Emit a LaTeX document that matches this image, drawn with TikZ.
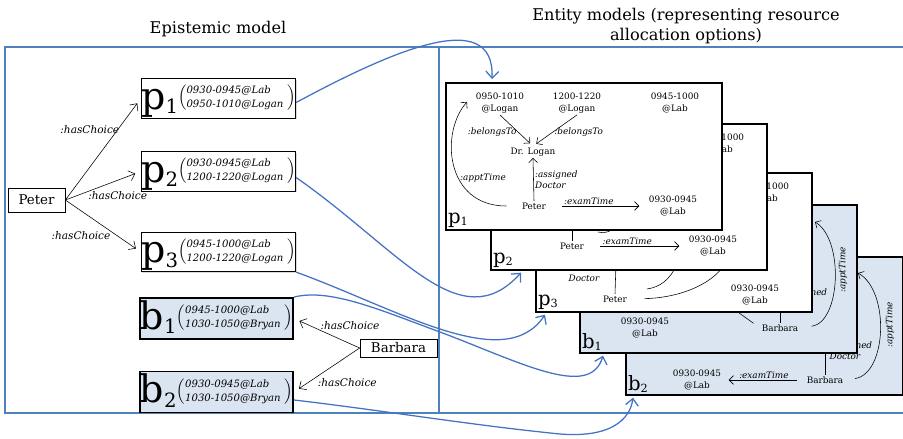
\documentclass[tikz,border=0pt]{standalone}
\usepackage{fontspec}
\setmainfont{DejaVu Serif}
\usetikzlibrary{calc,shadows,arrows.meta}

\definecolor{panelcol}{RGB}{79,129,189}
\definecolor{linkcol}{RGB}{68,114,196}
\definecolor{bfill}{RGB}{219,229,241}

% big option letter, index and the two bracketed slots
\newcommand{\optlabel}[4]{%
  \rule[-6.5pt]{0pt}{28pt}%
  {\fontsize{27}{27}\selectfont #1}%
  \raisebox{-3.5pt}{\fontsize{14}{14}\selectfont #2}%
  \raisebox{5.3pt}{$\Big(\vcenter{\hbox{\fontsize{7.2}{10}\selectfont\itshape
    \begin{tabular}{@{}l@{}}#3\\#4\end{tabular}}}\;\Big)$}}
% letter and index in the corner of a card
\newcommand{\cardtag}[2]{{\fontsize{14}{14}\selectfont #1}\raisebox{-1.5pt}{\fontsize{8}{8}\selectfont #2}}

\begin{document}
\begin{tikzpicture}[x=0.25mm, y=-0.25mm,
  panel/.style={draw=panelcol, line width=0.8pt},
  title/.style={font=\fontsize{11.5}{14}\selectfont, align=center},
  agent/.style={draw, line width=0.5pt, fill=white, inner sep=0pt, font=\fontsize{9.5}{11}\selectfont,
    drop shadow={opacity=0.25, shadow xshift=0.6pt, shadow yshift=-0.6pt}},
  optbox/.style={draw, line width=0.6pt, fill=white, inner sep=0pt, minimum width=38.25mm, minimum height=9.75mm,
    drop shadow={opacity=0.3, shadow xshift=0.8pt, shadow yshift=-0.8pt}},
  bbox/.style={optbox, fill=bfill, line width=1.3pt, minimum height=10.25mm},
  rel/.style={font=\fontsize{7.5}{9}\selectfont\itshape, inner sep=0pt},
  choice/.style={-{Straight Barb[length=1.4mm, width=2.6mm]}, line width=0.4pt, shorten >=1.5mm},
  card/.style={draw, line width=1.2pt, fill=white, anchor=north west, inner sep=0pt,
    drop shadow={opacity=0.4, shadow xshift=1pt, shadow yshift=-1pt}},
  bcard/.style={card, fill=bfill},
  ct/.style={font=\fontsize{6.3}{8.5}\selectfont, align=center, inner sep=1pt},
  crel/.style={font=\fontsize{6.3}{7.8}\selectfont\itshape, inner sep=1pt},
  cline/.style={-{Straight Barb[length=1.1mm, width=2.2mm]}, line width=0.4pt},
  exam/.style={shorten <=3.6mm, shorten >=2mm},
  tagnode/.style={anchor=south west, inner sep=0.7mm},
  link/.style={-{Straight Barb[length=1.7mm, width=3.2mm]}, draw=linkcol, line width=0.9pt}
]
\useasboundingbox (0,0) rectangle (903,438);

% the two panels
\draw[panel] (5,47) rectangle (439,413);
\draw[panel] (439,47) -- (910,47) (439,413) -- (910,413);

\node[title] (epi) at (218,29) {Epistemic model};
\node[title] (ent) at (686,26) {Entity models (representing resource\\allocation options)};

% epistemic model
\node[agent, minimum width=14.25mm, minimum height=6mm] (peter) at (36.5,200) {Peter};
\node[agent, minimum width=19.25mm, minimum height=4.5mm] (barbara) at (398.5,348) {Barbara};

\node[optbox] (p1) at (218.5,98.5) {\optlabel{p}{1}{0930-0945@Lab}{0950-1010@Logan}};
\node[optbox] (p2) at (218.5,171.5) {\optlabel{p}{2}{0930-0945@Lab}{1200-1220@Logan}};
\node[optbox] (p3) at (218.5,252) {\optlabel{p}{3}{0945-1000@Lab}{1200-1220@Logan}};
\node[bbox] (b1) at (216.5,318.5) {\optlabel{b}{1}{0945-1000@Lab}{1030-1050@Bryan}};
\node[bbox] (b2) at (216.5,392) {\optlabel{b}{2}{0930-0945@Lab}{1030-1050@Bryan}};

\draw[choice] (peter.east) -- (p1.west) node[rel, pos=0.69, anchor=east, xshift=0.5mm] {:hasChoice};
\draw[choice] (peter.east) -- (p2.west) node[rel, pos=0.3, anchor=north west] {:hasChoice};
\draw[choice] (peter.east) -- (p3.west) node[rel, pos=0.6, anchor=north east] {:hasChoice};
\draw[choice] (barbara.west) -- (b1.east) node[rel, pos=0.6, anchor=south west] {:hasChoice};
\draw[choice] (barbara.west) -- (b2.east) node[rel, pos=0.64, anchor=north west, yshift=-0.5mm] {:hasChoice};

% entity models, back to front
\node[bcard, minimum width=69.25mm, minimum height=34.5mm] (cb2) at (625,256) {};
\begin{scope}[shift={(625,256)}]
  \node[ct] (b2lab) at (72,124) {0930-0945\\@Lab};
  \node[ct] (b2ba) at (200,124) {Barbara};
  \draw[cline, shorten <=2mm, shorten >=1.5mm] (b2ba.west) -- (b2lab.east) node[crel, midway, above] {:examTime};
  \draw[line width=0.4pt] (b2ba.north) -- (200,90);
  \node[crel, anchor=west, align=left] (b2as) at (203,95) {:assigned\\Doctor};
  \draw[cline, shorten <=2.5mm] (b2ba.east) .. controls (262,118) and (265,35) .. (233,17);
  \node[crel, rotate=90] (b2ap) at (265,69) {:apptTime};
\end{scope}
\node[tagnode] (tb2) at (cb2.south west) {\cardtag{b}{2}};

\node[bcard, minimum width=69.25mm, minimum height=37mm] (cb1) at (579,204) {};
\begin{scope}[shift={(579,204)}]
  \node[ct] (b1lab) at (66,124) {0930-0945\\@Lab};
  \node[ct] (b1ba) at (201,124) {Barbara};
  \draw[line width=0.4pt] (b1ba.north) -- (201,100);
  \node[crel, anchor=west] (b1as) at (204,89) {:assigned};
  \draw[line width=0.4pt, shorten <=2mm] (b1ba.west) -- (149,101);
  \draw[cline, shorten <=3mm] (b1ba.east) .. controls (262,118) and (265,35) .. (236,18);
  \node[crel, rotate=90] (b1ap) at (264,66) {:apptTime};
\end{scope}
\node[tagnode] (tb1) at (cb1.south west) {\cardtag{b}{1}};

\node[card, minimum width=69mm, minimum height=34.75mm] (cp3) at (535,172) {};
\begin{scope}[shift={(535,172)}]
  \node[ct] (p3c) at (230,21) {0945-1000\\@Lab};
  \node[crel] (p3doc) at (49,106) {Doctor};
  \node[ct] (p3pe) at (80,127) {Peter};
  \node[ct] (p3lab) at (220,123) {0930-0945\\@Lab};
  \draw[line width=0.4pt] (p3pe.north) -- (81,92);
  \draw[line width=0.4pt] (112,117) .. controls (125,115) and (135,108) .. (142,92);
  \draw[line width=0.4pt, shorten <=4mm] (p3pe.east) .. controls (140,126) and (175,115) .. (190,92);
\end{scope}
\node[tagnode] (tp3) at (cp3.south west) {\cardtag{p}{3}};

\node[card, minimum width=69mm, minimum height=36.5mm] (cp2) at (490,123) {};
\begin{scope}[shift={(490,123)}]
  \node[ct] (p2c) at (230,21) {0945-1000\\@Lab};
  \node[ct] (p2pe) at (82,123) {Peter};
  \node[ct] (p2lab) at (223,123) {0930-0945\\@Lab};
  \draw[cline, exam] (p2pe.east) -- (p2lab.west) node[crel, pos=0.15, anchor=south west] {:examTime};
  \draw[line width=0.4pt] (p2pe.north) -- (82,100);
  \draw[line width=0.4pt] (108,109) .. controls (115,111) and (122,109) .. (128,100);
\end{scope}
\node[tagnode] (tp2) at (cp2.south west) {\cardtag{p}{2}};

\node[card, minimum width=69mm, minimum height=36.75mm] (cp1) at (445,82) {};
\begin{scope}[shift={(445,82)}]
  \node[ct] (p1t1) at (55,21) {0950-1010\\@Logan};
  \node[ct] (p1t2) at (132,21) {1200-1220\\@Logan};
  \node[ct] (p1t3) at (230,21) {0945-1000\\@Lab};
  \node[ct] (p1dr) at (88,70) {Dr. Logan};
  \node[ct] (p1pe) at (89,124) {Peter};
  \node[ct] (p1lab) at (228,124) {0930-0945\\@Lab};
  \draw[cline, shorten >=1mm] (p1t1.south) -- (p1dr.north) node[crel, pos=0.55, left] {:belongsTo};
  \draw[cline, shorten >=1mm] (p1t2.south) -- (p1dr.north) node[crel, pos=0.55, right] {:belongsTo};
  \draw[cline] (p1pe.north) -- (p1dr.south) node[crel, midway, right, align=left] {:assigned\\Doctor};
  \draw[cline, exam] (p1pe.east) -- (p1lab.west) node[crel, pos=0.15, anchor=south west] {:examTime};
  \draw[cline, shorten <=3.5mm] (p1pe.west) .. controls (0,124) and (-5,50) .. (22,20);
  \node[crel] (p1ap) at (38,96) {:apptTime};
\end{scope}
\node[tagnode] (tp1) at (cp1.south west) {\cardtag{p}{1}};

% options linked to their entity models
\draw[link] ([yshift=-1mm]p1.east) .. controls (390,52) and (495,5) .. ($(cp1.north west)+(47,-3)$);
\draw[link] ([yshift=-1.5mm]p2.east) .. controls (400,250) and (460,340) .. ($(cp2.south west)+(31,2)$);
\draw[link] (p3.south east) .. controls (400,310) and (505,375) .. ($(cp3.south west)+(10,2)$);
\draw[link] (b1.north east) .. controls (330,288) and (380,310) .. (440,332)
  .. controls (520,362) and (590,400) .. ($(cb1.south west)+(24,2)$);
\draw[link] ([yshift=-2mm]b2.east) .. controls (380,410) and (470,425) .. (560,434)
  .. controls (610,438) and (630,420) .. ($(cb2.south west)+(8,2)$);
\end{tikzpicture}
\end{document}
